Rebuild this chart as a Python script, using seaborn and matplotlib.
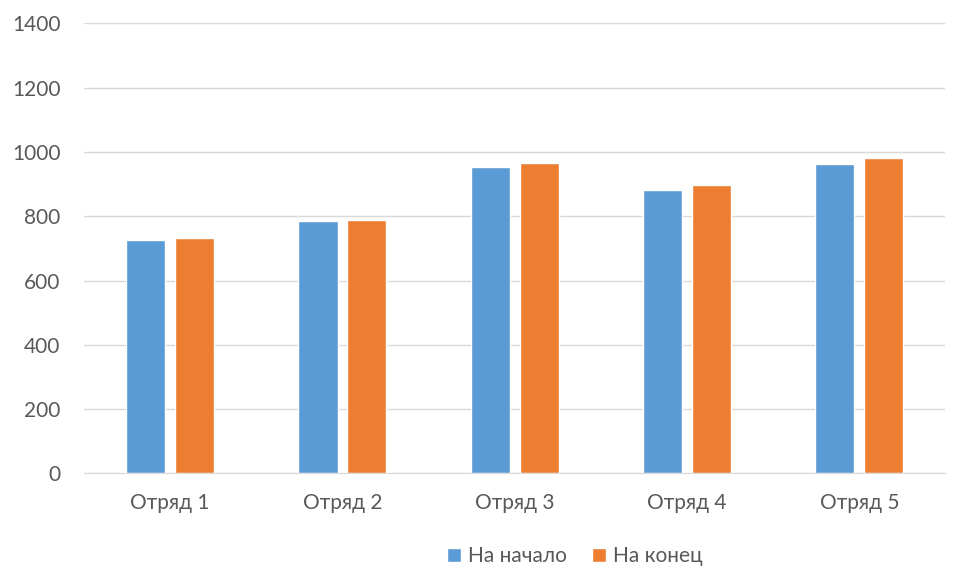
import numpy as np
import pandas as pd
import matplotlib
matplotlib.use("Agg")
import matplotlib.pyplot as plt
from matplotlib.patches import Patch
import seaborn as sns

categories = ["Отряд 1", "Отряд 2", "Отряд 3", "Отряд 4", "Отряд 5"]
series_names = ["На начало", "На конец"]
start_vals = [726, 784, 953, 880, 962]
end_vals = [732, 788, 965, 897, 981]
colors = ["#5B9BD5", "#ED7D31"]

sns.set_style("white")
plt.rcParams["font.family"] = ["Lato", "DejaVu Sans"]
plt.rcParams["font.size"] = 15

df = pd.DataFrame({
    "cat": categories * 2,
    "series": [series_names[0]] * 5 + [series_names[1]] * 5,
    "val": start_vals + end_vals,
})

fig = plt.figure(figsize=(9.55, 5.67), dpi=100)
ax = fig.add_axes([0.088, 0.165, 0.902, 0.794])
sns.barplot(data=df, x="cat", y="val", hue="series", palette=colors,
            width=0.568, gap=0.2, ax=ax, legend=False, saturation=1)

ax.set_ylim(0, 1400)
ax.set_xlim(-0.5, 4.5)
ax.set_yticks(range(0, 1401, 200))
ax.yaxis.grid(True, color="#D9D9D9", lw=1)
ax.set_axisbelow(True)
for s in ["top", "right", "left"]:
    ax.spines[s].set_visible(False)
ax.spines["bottom"].set_color("#D9D9D9")
ax.set_xlabel(""); ax.set_ylabel("")
ax.tick_params(axis="y", length=0, pad=17, labelcolor="#595959", labelsize=15)
ax.tick_params(axis="x", length=0, pad=14, labelcolor="#595959", labelsize=15)

handles = [Patch(facecolor=c, label=n) for c, n in zip(colors, series_names)]
fig.legend(handles=handles, loc="center", bbox_to_anchor=(0.602, 0.019), ncol=2,
           frameon=False, handlelength=0.67, handleheight=0.67, columnspacing=1.2,
           handletextpad=0.35, labelcolor="#595959", fontsize=15,
           borderpad=0, borderaxespad=0)

fig.savefig("out.png", dpi=100)
